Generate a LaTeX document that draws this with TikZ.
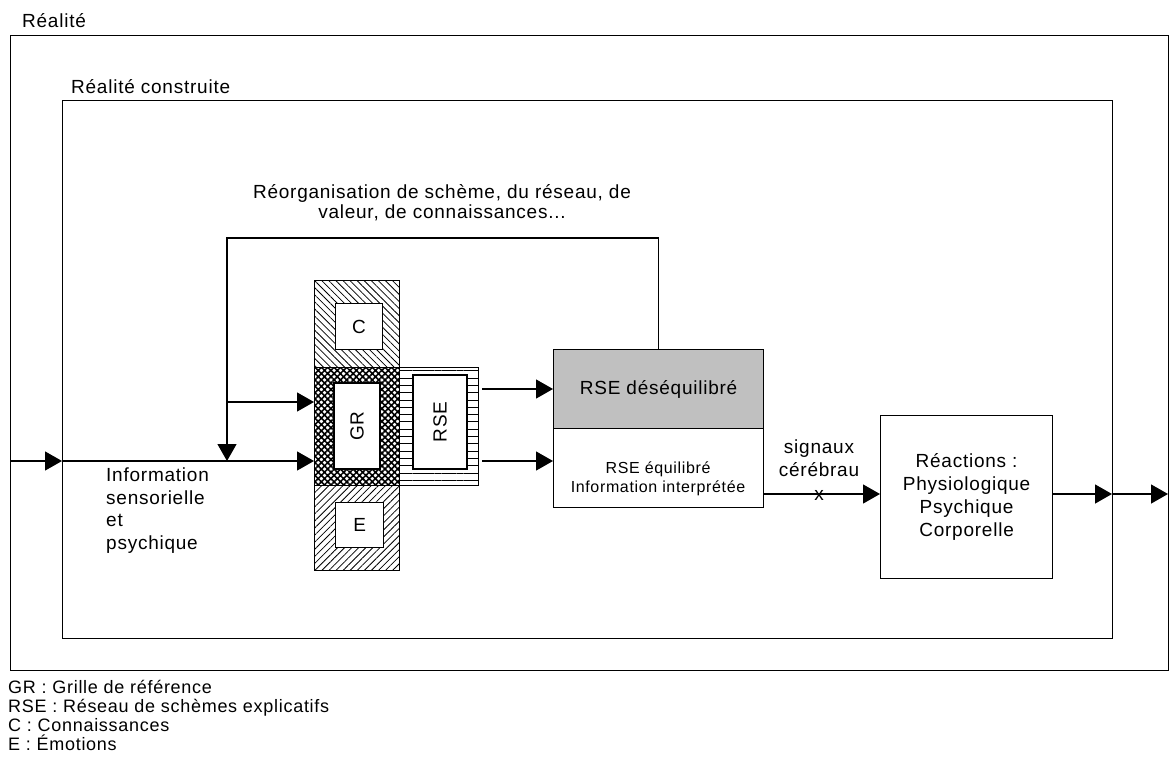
\documentclass[tikz,border=0pt]{standalone}
\usepackage{fontspec}
\setmainfont{Liberation Sans}[LetterSpace=4]
\usetikzlibrary{arrows.meta,patterns.meta}
\begin{document}
\begin{tikzpicture}[x=1pt,y=-1pt,
  box/.style={draw, line width=1.2pt, rectangle, inner sep=0pt, anchor=north west},
  arr/.style={line width=1.3pt, -{Triangle[length=17pt,width=19pt]}},
  txt/.style={inner sep=0pt},
  every node/.style={font=\fontsize{19}{23}\selectfont}]
\useasboundingbox (0,0) rectangle (1169,765);
% frames
\node[box, minimum width=1158pt, minimum height=635pt] (outerF) at (10,35) {};
\node[box, minimum width=1050pt, minimum height=538pt] (innerF) at (62,100) {};
\node[txt, anchor=base west] (lRealite) at (22,28) {Réalité};
\node[txt, anchor=base west] (lConstr) at (71,94) {Réalité construite};
% central block
\node[box, minimum width=85pt, minimum height=87pt, pattern={Lines[angle=-45,distance=5pt,line width=0.8pt]}] (colC) at (314,280) {};
\node[box, fill=white, minimum width=47pt, minimum height=46pt] (boxC) at (335,303) {C};
\node[box, minimum width=85pt, minimum height=118pt, pattern={Hatch[angle=45,distance=4.5pt,line width=1.6pt]}] (gr) at (314,367) {};
\node[box, anchor=center, rotate=90, fill=white, minimum width=86pt, minimum height=46pt] (grIn) at (357,426) {GR};
\node[box, minimum width=79pt, minimum height=118pt, pattern={Lines[angle=0,distance=7.3pt,line width=0.9pt]}] (rse) at (399,367) {};
\node[box, anchor=center, rotate=90, fill=white, minimum width=94pt, minimum height=54pt] (rseIn) at (440,422) {RSE};
\node[box, minimum width=85pt, minimum height=85pt, pattern={Lines[angle=45,distance=5pt,line width=0.8pt]}] (colE) at (314,485) {};
\node[box, fill=white, minimum width=48pt, minimum height=45pt] (boxE) at (335,502) {E};
% RSE states
\node[box, fill={rgb,255:red,192;green,192;blue,192}, minimum width=210pt, minimum height=79pt] (deseq) at (553,349) {RSE déséquilibré};
\node[box, fill=white, minimum width=210pt, minimum height=79pt] (eq) at (553,428) {};
\node[txt, anchor=base, align=center, font=\fontsize{16}{19}\selectfont] (eqT) at (658,492) {RSE équilibré\\Information interprétée};
% reactions
\node[box, align=center, minimum width=172pt, minimum height=163pt, font=\fontsize{19}{23}\selectfont] (react) at (880,415) {Réactions :\\Physiologique\\Psychique\\Corporelle};
% texts
\node[txt, anchor=base, align=center, font=\fontsize{19}{20}\selectfont] (lReorg) at (442,218) {Réorganisation de schème, du réseau, de\\valeur, de connaissances...};
\node[txt, anchor=base west, align=left, font=\fontsize{19}{22.5}\selectfont] (lInfo) at (106,549) {Information\\sensorielle\\et\\psychique};
\node[txt, anchor=base, align=center, font=\fontsize{19}{23.5}\selectfont] (lSig) at (819,500) {signaux\\cérébrau\\x};
\node[txt, anchor=base west, align=left, font=\fontsize{18}{18.7}\selectfont] (legend) at (8,750) {GR : Grille de référence\\RSE : Réseau de schèmes explicatifs\\C : Connaissances\\E : Émotions};
% coordinates
\coordinate (in0) at (10,461);
\coordinate (in1) at (62,461);
\coordinate (fbL) at (227,238);
\coordinate (fbJ) at (227,461);
\coordinate (fbB) at (227,402);
\coordinate (rO1) at (482,389);
\coordinate (rO2) at (482,461);
\coordinate (eI) at (553,461);
\coordinate (sO) at (763,494);
\coordinate (sI) at (880,494);
\coordinate (oA) at (1052,494);
\coordinate (oB) at (1112,494);
\coordinate (oC) at (1168,494);
% connectors
\draw[arr] (in0) -- (in1);
\draw[arr] (in1) -- (gr.west |- in1);
\draw[arr] (deseq.north) |- (fbL) -- (fbJ);
\draw[arr] (fbB) -- (gr.west |- fbB);
\draw[arr] (rO1) -- (deseq.west |- rO1);
\draw[arr] (rO2) -- (eI);
\draw[arr] (sO) -- (sI);
\draw[arr] (oA) -- (oB);
\draw[arr] (oB) -- (oC);
\end{tikzpicture}
\end{document}
